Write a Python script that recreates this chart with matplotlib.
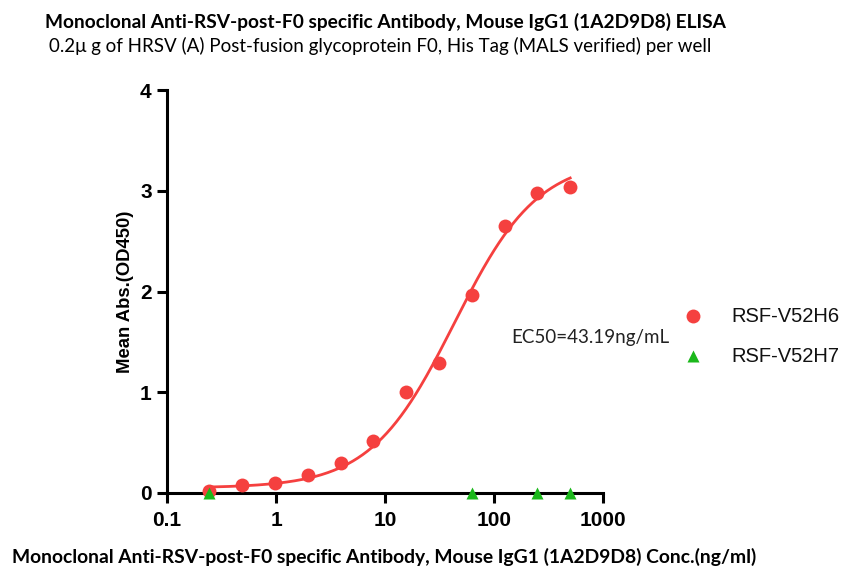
import numpy as np
import matplotlib
matplotlib.use("Agg")
import matplotlib.pyplot as plt
from matplotlib.ticker import FixedLocator, NullLocator

# ---- data ----
conc_h6 = [0.244, 0.488, 0.977, 1.95, 3.91, 7.81, 15.6, 31.25, 62.5, 125, 250, 500]
od_h6 = [0.02, 0.076, 0.096, 0.18, 0.30, 0.52, 1.00, 1.29, 1.97, 2.65, 2.98, 3.04]
conc_h7 = [0.244, 62.5, 250, 500]
od_h7 = [0.0, 0.0, 0.0, 0.0]
# 4PL fit parameters
fit_bottom = 0.05
fit_top = 3.32
fit_ec50 = 43.19
fit_hill = 1.13
x_ticks = [0.1, 1, 10, 100, 1000]
x_ticklabels = ["0.1", "1", "10", "100", "1000"]
y_ticks = [0, 1, 2, 3, 4]

title = "Monoclonal Anti-RSV-post-F0 specific Antibody, Mouse IgG1 (1A2D9D8) ELISA"
subtitle = "0.2\u03bc g of HRSV (A) Post-fusion glycoprotein F0, His Tag (MALS verified) per well"
xlabel = "Monoclonal Anti-RSV-post-F0 specific Antibody, Mouse IgG1 (1A2D9D8) Conc.(ng/ml)"
ylabel = "Mean Abs.(OD450)"
ec50_text = "EC50=43.19ng/mL"
labels = ["RSF-V52H6", "RSF-V52H7"]

W, H = 846, 568
fig = plt.figure(figsize=(W / 100, H / 100), dpi=100)
ax = fig.add_axes([167 / W, 1 - 493 / H, 436 / W, 403 / H])

red = "#f5403f"
green = "#1bb81b"

xs = np.logspace(np.log10(conc_h6[0]), np.log10(conc_h6[-1]), 300)
ys = fit_bottom + (fit_top - fit_bottom) / (1 + (fit_ec50 / xs) ** fit_hill)
ax.plot(xs, ys, color=red, lw=2, zorder=2, clip_on=False)
ax.plot(conc_h6, od_h6, "o", color=red, ms=10, mec="none", zorder=3, clip_on=False)
ax.plot(conc_h7, od_h7, "^", color=green, ms=9, mec="none", zorder=4, clip_on=False)

ax.set_xscale("log")
ax.set_xlim(0.1, 1000)
ax.set_ylim(0, 4)
ax.xaxis.set_major_locator(FixedLocator(x_ticks))
ax.xaxis.set_minor_locator(NullLocator())
ax.set_xticklabels(x_ticklabels)
ax.set_yticks(y_ticks)
for s in ["top", "right"]:
    ax.spines[s].set_visible(False)
for s in ["left", "bottom"]:
    ax.spines[s].set_linewidth(2.2)
ax.tick_params(axis="both", width=2.2, length=7, direction="out",
               labelsize=15)
for lab in ax.get_xticklabels() + ax.get_yticklabels():
    lab.set_fontfamily("Liberation Sans")
    lab.set_fontweight("bold")
ax.tick_params(axis="x", pad=6)
ax.tick_params(axis="y", pad=4)

ax.set_ylabel(ylabel, fontfamily="Liberation Sans", fontweight="bold",
              fontsize=13.3)
ax.yaxis.set_label_coords((125 - 167) / 436, 0.5)
ax.yaxis.label.set_va("center")

fig.canvas.draw()
renderer = fig.canvas.get_renderer()

def fit_text(x, y, s, target_w, weight, family="Lato", **kw):
    t = fig.text(x / W, 1 - y / H, s, fontsize=12, fontweight=weight,
                 fontfamily=family, ha="center", va="center", **kw)
    w = t.get_window_extent(renderer).width
    t.set_fontsize(12 * target_w / w)
    return t

fit_text(385, 22, title, 680, "bold")
fit_text(380, 46, subtitle, 660, "normal")
fit_text(384, 557, xlabel, 742, "bold")

t = fig.text(590 / W, 1 - 338 / H, ec50_text, fontsize=12, fontfamily="Lato",
             ha="center", va="center", color="#222222")
w = t.get_window_extent(renderer).width
t.set_fontsize(12 * 157 / w)

# legend
leg_x = 693
for i, (lab, mk, col, ms) in enumerate([(labels[0], "o", red, 10), (labels[1], "^", green, 9)]):
    yy = 316 + i * 40
    fig.lines.append(plt.Line2D([leg_x / W], [1 - yy / H], marker=mk, color=col,
                                ms=ms, mec="none", transform=fig.transFigure))
    fig.text(731 / W, 1 - yy / H, lab, fontsize=14.5, fontfamily="Liberation Sans",
             ha="left", va="center", color="#111111")

fig.savefig("out.png", dpi=100)
